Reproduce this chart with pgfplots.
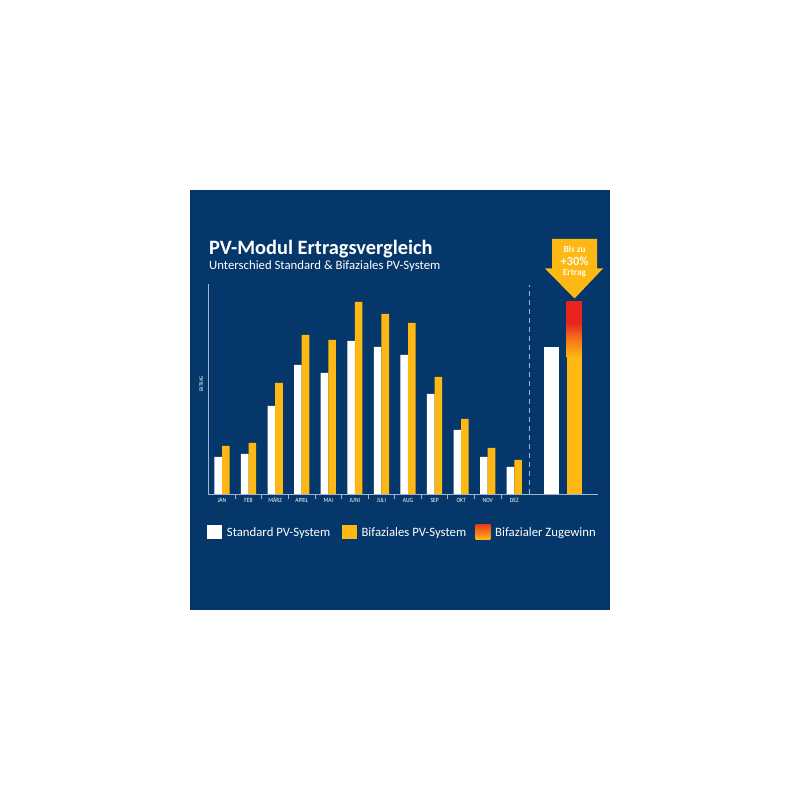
\documentclass[border=0pt]{standalone}
\usepackage{pgfplots}
\pgfplotsset{compat=1.18}
\usepackage{fontspec}
\setmainfont{Carlito}
\newfontfamily\condfont[FakeStretch=0.85]{Carlito}

\definecolor{panelblue}{RGB}{5,55,107}
\definecolor{pvyellow}{RGB}{253,184,19}
\definecolor{pvred}{RGB}{232,38,31}
\definecolor{pvorange}{RGB}{246,120,24}
\definecolor{axisgrey}{RGB}{160,182,210}

% yellow at the bottom, red over the top 38 % of the gain part
\pgfdeclareverticalshading{gain}{100bp}{color(0bp)=(pvyellow); color(25bp)=(pvyellow); color(41bp)=(pvorange); color(55.9bp)=(pvred); color(100bp)=(pvred)}

\begin{document}
\begin{tikzpicture}[x=1pt,y=1pt]
\useasboundingbox (0,0) rectangle (800,800);
\fill[white] (0,0) rectangle (800,800);
\fill[panelblue] (190,190) rectangle (610,610);

% title block
\node[anchor=base west, inner sep=0, text=white, font=\bfseries\fontsize{20.4}{24}\selectfont] at (209,545) {PV-Modul Ertragsvergleich};
\node[anchor=base west, inner sep=0, text=white, font=\fontsize{12.75}{15}\selectfont] at (209,530) {Unterschied Standard \& Bifaziales PV-System};

\begin{axis}[
  at={(208.3pt,306pt)}, anchor=south west,
  scale only axis, width=390pt, height=210pt,
  xmin=-0.516, xmax=14.162, ymin=0, ymax=210,
  axis x line=bottom, axis y line=left,
  axis line style={draw=axisgrey, line width=0.9pt, -},
  ytick=\empty,
  xtick={0,...,11},
  xticklabels={JAN,FEB,MÄRZ,APRIL,MAI,JUNI,JULI,AUG,SEP,OKT,NOV,DEZ},
  minor xtick={0.5,1.5,...,10.5},
  major tick length=0pt, minor tick length=5.5pt,
  tick align=outside,
  tick style={draw=axisgrey, line width=0.8pt},
  xticklabel style={font=\condfont\fontsize{6.5}{7}\selectfont, text=white, anchor=base, inner sep=0pt, yshift=-8.3pt},
  ylabel={ERTRAG},
  ylabel style={font=\condfont\fontsize{5.5}{6}\selectfont, text=white, at={(axis description cs:-0.018,0.524)}, anchor=center},
  clip=false,
]
% standard system per month
\addplot[ybar, bar width=0.286, bar shift=-0.143, fill=white, draw=none] coordinates {
  (0,37) (1,40) (2,88) (3,129) (4,121) (5,153) (6,147) (7,139) (8,100) (9,64) (10,37) (11,27)
};
% bifacial system per month
\addplot[ybar, bar width=0.286, bar shift=0.143, fill=pvyellow, draw=none] coordinates {
  (0,48) (1,51) (2,111) (3,159) (4,154) (5,192) (6,180) (7,171) (8,117) (9,75) (10,46) (11,34)
};
% comparison bars on the right
\addplot[ybar, bar width=0.576, bar shift=0, fill=white, draw=none] coordinates {(12.409,147)};
\addplot[ybar, bar width=0.576, bar shift=0, fill=pvyellow, draw=none] coordinates {(13.26,137)};
% gain part of bifacial bar
\addplot[draw=none, shading=gain] coordinates {
  (12.972,136.5) (13.548,136.5) (13.548,192) (12.972,192)} -- cycle;

\draw[axisgrey, line width=0.9pt, dash pattern=on 5pt off 4pt] (axis cs:11.558,0) -- (axis cs:11.558,209);
\end{axis}

% arrow
\fill[pvyellow] (552,561) -- (597,561) -- (597,531.5) -- (603,531.5) -- (574.5,501.5) -- (545,531.5) -- (552,531.5) -- cycle;
\node[text=white!92!pvyellow, inner sep=0, font=\bfseries\fontsize{9.3}{10}\selectfont] at (574.5,550.5) {Bis zu};
\node[text=white!92!pvyellow, inner sep=0, font=\bfseries\fontsize{12.5}{13}\selectfont] at (574.5,539) {+30\%};
\node[text=white!92!pvyellow, inner sep=0, font=\bfseries\fontsize{9.3}{10}\selectfont] at (574.5,526.5) {Ertrag};

% legend
\fill[white] (206.7,260.7) rectangle (222,275);
\node[anchor=base west, inner sep=0, text=white, font=\fontsize{12.75}{15}\selectfont] at (226.7,263.3) {Standard PV-System};
\fill[pvyellow] (342,260.7) rectangle (356.7,275);
\node[anchor=base west, inner sep=0, text=white, font=\fontsize{12.75}{15}\selectfont] at (361.3,263.3) {Bifaziales PV-System};
\shade[top color=pvred!70!pvorange, bottom color=pvyellow] (475.7,260.7) rectangle (490.3,275);
\node[anchor=base west, inner sep=0, text=white, font=\fontsize{12.75}{15}\selectfont] at (495,263.3) {Bifazialer Zugewinn};
\end{tikzpicture}
\end{document}
